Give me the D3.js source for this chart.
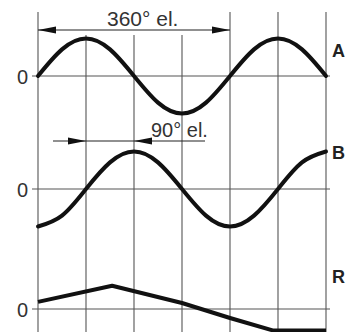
<!DOCTYPE html>
<html><head><meta charset="utf-8">
<script src="https://cdn.jsdelivr.net/npm/d3@7"></script>
<style>html,body{margin:0;padding:0;background:#fff;}svg{display:block;}</style>
</head><body>
<script>
// Data (angles in electrical degrees, values relative to amplitude 1)
const angles = [0,45,90,135,180,225,270,315,360,405,450,495,540];
const seriesA = [0,0.71,1,0.71,0,-0.71,-1,-0.71,0,0.71,1,0.71,0];
const seriesB = [-1,-0.71,0,0.71,1,0.71,0,-0.71,-1,-0.71,0,0.71,1];
const anglesR = [0,139,270,360,440,540];
const seriesR = [0.19,0.62,0.16,-0.24,-0.57,-0.57];
const gridAngles = [0,90,180,270,360,450,540];
const traceNames = ["A","B","R"];
const zeroLabel = "0";
const dim360 = {from:0, to:360, label:"360° el."};
const dim90 = {from:90, to:180, label:"90° el."};

const W=346,H=332;
const svg=d3.select("body").append("svg").attr("width",W).attr("height",H);
const x=d3.scaleLinear().domain([0,540]).range([38,326]);
const amp=37.5;
const bases=[76,189,309];
const yScales=bases.map(b=>d3.scaleLinear().domain([-1,1]).range([b+amp,b-amp]));

const gridColor="#555";
// vertical grid lines
gridAngles.forEach(a=>{
  const top=(a>0&&a<360)?35:12;
  svg.append("line").attr("x1",x(a)).attr("x2",x(a)).attr("y1",top).attr("y2",H)
    .attr("stroke",gridColor).attr("stroke-width",1.1);
});
// zero lines + labels
bases.forEach((b,i)=>{
  svg.append("line").attr("x1",32).attr("x2",330).attr("y1",yScales[i](0)).attr("y2",yScales[i](0))
    .attr("stroke",gridColor).attr("stroke-width",1.1);
  svg.append("text").attr("x",28).attr("y",yScales[i](0)+7.5).attr("text-anchor","end")
    .attr("font-family","Liberation Sans, Arial, sans-serif").attr("font-size",20).attr("fill","#333").text(zeroLabel);
});
// curves
const smooth=(ys,yS)=>d3.line().x((d,i)=>x(angles[i])).y(d=>yS(d)).curve(d3.curveNatural)(ys);
svg.append("path").attr("d",smooth(seriesA,yScales[0])).attr("fill","none").attr("stroke","#111").attr("stroke-width",4).attr("stroke-linecap","round");
svg.append("path").attr("d",smooth(seriesB,yScales[1])).attr("fill","none").attr("stroke","#111").attr("stroke-width",4).attr("stroke-linecap","round");
const lineR=d3.line().x((d,i)=>x(anglesR[i])).y(d=>yScales[2](d));
svg.append("path").attr("d",lineR(seriesR)).attr("fill","none").attr("stroke","#111").attr("stroke-width",4).attr("stroke-linejoin","round");

// trace labels
const labelY=[57,159,283];
traceNames.forEach((n,i)=>{
  svg.append("text").attr("x",332).attr("y",labelY[i])
    .attr("font-family","Liberation Sans, Arial, sans-serif").attr("font-weight","bold").attr("font-size",18).attr("fill","#222").text(n);
});

function arrowHead(tipX,y,dir){ // dir -1 points left, +1 points right
  const L=18,h=3.5;
  svg.append("path").attr("d",`M${tipX},${y}L${tipX-dir*L},${y-h}L${tipX-dir*L},${y+h}Z`).attr("fill","#111");
}
// 360 dimension
const y360=30;
svg.append("line").attr("x1",x(dim360.from)).attr("x2",x(dim360.to)).attr("y1",y360).attr("y2",y360).attr("stroke","#222").attr("stroke-width",1.1);
arrowHead(x(dim360.from),y360,-1);
arrowHead(x(dim360.to),y360,1);
svg.append("text").attr("x",107).attr("y",26).attr("font-family","Liberation Sans, Arial, sans-serif").attr("font-size",21).attr("fill","#333").text(dim360.label);
// 90 dimension
const y90=141;
svg.append("line").attr("x1",53).attr("x2",205).attr("y1",y90).attr("y2",y90).attr("stroke","#222").attr("stroke-width",1.1);
arrowHead(x(dim90.from),y90,1);
arrowHead(x(dim90.to),y90,-1);
svg.append("text").attr("x",151).attr("y",137).attr("font-family","Liberation Sans, Arial, sans-serif").attr("font-size",20).attr("fill","#333").text(dim90.label);
</script>
</body></html>
